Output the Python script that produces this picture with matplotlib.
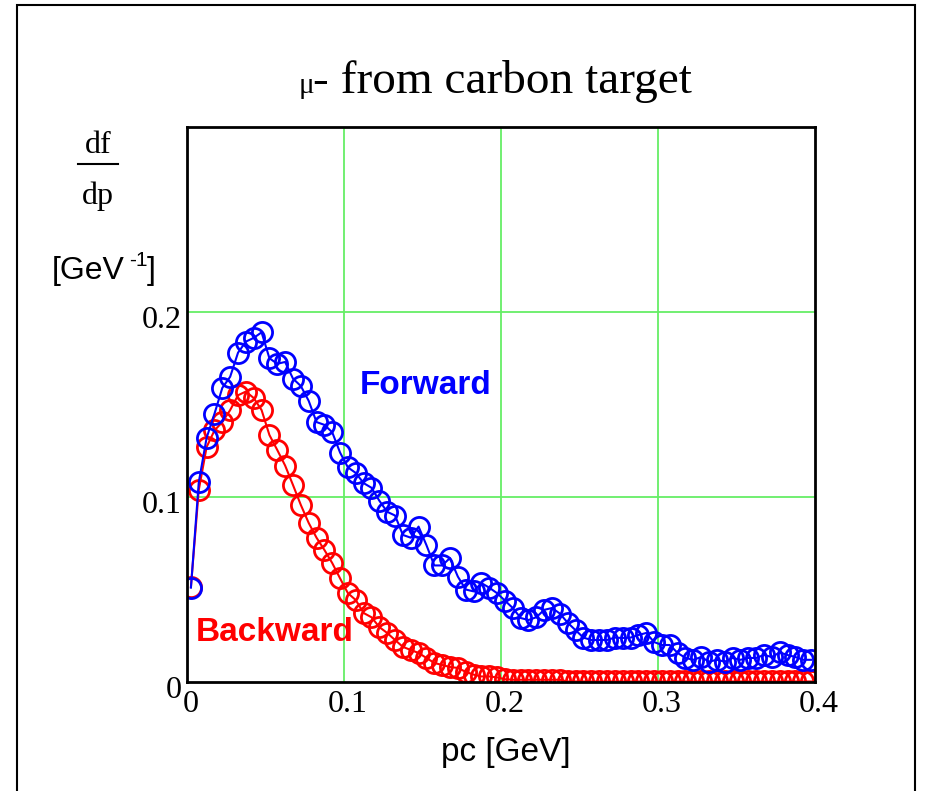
import numpy as np
import matplotlib
matplotlib.use("Agg")
import matplotlib.pyplot as plt
import matplotlib.transforms as mtransforms
from matplotlib.patches import Rectangle
from matplotlib.lines import Line2D

# momentum bins [GeV]
pc = 0.0025 + 0.005 * np.arange(80)

# df/dp [GeV^-1], forward muons
forward = [0.051, 0.108, 0.132, 0.145, 0.159, 0.165, 0.178, 0.184, 0.186, 0.189,
           0.175, 0.172, 0.173, 0.164, 0.160, 0.152, 0.1405, 0.139, 0.135, 0.124,
           0.116, 0.113, 0.1075, 0.105, 0.098, 0.092, 0.090, 0.0795, 0.078, 0.084,
           0.074, 0.063, 0.063, 0.067, 0.057, 0.050, 0.049, 0.0535, 0.051, 0.048,
           0.044, 0.040, 0.0346, 0.0335, 0.035, 0.039, 0.040, 0.037, 0.032, 0.028,
           0.024, 0.0227, 0.0227, 0.0227, 0.024, 0.0238, 0.024, 0.0254, 0.0265, 0.0216,
           0.020, 0.020, 0.0157, 0.013, 0.012, 0.0135, 0.011, 0.012, 0.011, 0.013,
           0.012, 0.013, 0.013, 0.0146, 0.0135, 0.016, 0.0146, 0.0135, 0.012, 0.012]

# df/dp [GeV^-1], backward muons
backward = [0.0514, 0.1038, 0.127, 0.136, 0.1405, 0.147, 0.155, 0.157, 0.1535, 0.147,
            0.1335, 0.1254, 0.117, 0.1065, 0.0957, 0.086, 0.078, 0.0714, 0.0643, 0.056,
            0.048, 0.0443, 0.0373, 0.035, 0.0297, 0.0265, 0.0227, 0.019, 0.0173, 0.0157,
            0.013, 0.0103, 0.0092, 0.0081, 0.0076, 0.0055, 0.004, 0.003, 0.003, 0.0025,
            0.0015, 0.0012, 0.0012, 0.0012, 0.0012, 0.0012, 0.0012, 0.0012, 0.0003, 0.0003,
            0.0003, 0.0003, 0.0003, 0.0003, 0.0003, 0.0003, 0.0003, 0.0003, 0.0003, 0.0003,
            0.0003, 0.0003, 0.0003, 0.0003, 0.0003, 0.0003, 0.0003, 0.0003, 0.0003, 0.0003,
            0.0003, 0.0003, 0.0003, 0.0003, 0.0003, 0.0003, 0.0003, 0.0003, 0.0003, 0.0003]

xticks = [0, 0.1, 0.2, 0.3, 0.4]
xticklabels = ['0', '0.1', '0.2', '0.3', '0.4']
yticks = [0, 0.1, 0.2]
yticklabels = ['0', '0.1', '0.2']

W, H = 930, 791
serif = 'Liberation Serif'
sans = 'Liberation Sans'


def fx(px):
    return px / W


def fy(px):
    return 1 - px / H


fig = plt.figure(figsize=(W / 100, H / 100), dpi=100)
ax = fig.add_axes([fx(187), fy(682), 628 / W, 555 / H])

# outer frame
fig.patches.append(Rectangle((fx(17), -0.05), 898 / W, 1.05 - 5 / H, transform=fig.transFigure,
                             fill=False, edgecolor='black', lw=1.5))

ax.plot(pc, backward, color='#ff0000', lw=1.5, marker='o', ms=14.5, mfc='none', mew=2)
ax.plot(pc, forward, color='#0000ff', lw=1.5, marker='o', ms=14.5, mfc='none', mew=2)

ax.set_xlim(0, 0.4)
ax.set_ylim(0, 0.3)
ax.set_xticks(xticks)
ax.set_xticklabels(xticklabels, fontfamily=serif, fontsize=23)
ax.set_yticks(yticks)
ax.set_yticklabels(yticklabels, fontfamily=serif, fontsize=23)
ax.tick_params(axis='x', length=0, pad=6)
ax.tick_params(axis='y', length=0, pad=4)

# gridlines only at the inner ticks
for gx in [0.1, 0.2, 0.3]:
    ax.axvline(gx, color='#66ee66', lw=1.3, zorder=0)
for gy in [0.1, 0.2]:
    ax.axhline(gy, color='#66ee66', lw=1.3, zorder=0)

for s in ax.spines.values():
    s.set_linewidth(2)
    s.set_color('black')
    s.set_zorder(5)

# tick labels sit a little right / low of their ticks
dx = mtransforms.ScaledTranslation(4 / 100, 0, fig.dpi_scale_trans)
dy = mtransforms.ScaledTranslation(0, -5 / 100, fig.dpi_scale_trans)
for lab in ax.get_xticklabels():
    lab.set_transform(lab.get_transform() + dx)
for lab in ax.get_yticklabels():
    lab.set_transform(lab.get_transform() + dy)

ax.text(0.110, 0.1605, 'Forward', color='#0000ff', fontfamily=sans, fontweight='bold',
        fontsize=24, va='center', ha='left')
ax.text(0.0057, 0.027, 'Backward', color='#ff0000', fontfamily=sans, fontweight='bold',
        fontsize=24, va='center', ha='left')

# title
fig.text(fx(299), fy(93), 'μ', fontfamily=serif, fontsize=21, ha='left', va='baseline')
fig.text(fx(313), fy(93), '- from carbon target', fontfamily=serif, fontsize=34,
         ha='left', va='baseline')

# y label: df/dp over [GeV^-1]
fig.text(fx(98), fy(153), 'df', fontfamily=serif, fontsize=23, ha='center', va='baseline')
fig.text(fx(98), fy(204), 'dp', fontfamily=serif, fontsize=23, ha='center', va='baseline')
fig.lines.append(Line2D([fx(78), fx(118)], [fy(164), fy(164)], transform=fig.transFigure,
                        color='black', lw=1.5))
fig.text(fx(52), fy(279), '[GeV', fontfamily=sans, fontsize=23, ha='left', va='baseline')
fig.text(fx(129), fy(266), '-1', fontfamily=sans, fontsize=15, ha='left', va='baseline')
fig.text(fx(147), fy(279), ']', fontfamily=sans, fontsize=23, ha='left', va='baseline')

# x label
fig.text(fx(506), fy(752), 'pc [GeV]', fontfamily=sans, fontsize=24, ha='center', va='center')

fig.savefig('out.png', dpi=100)
